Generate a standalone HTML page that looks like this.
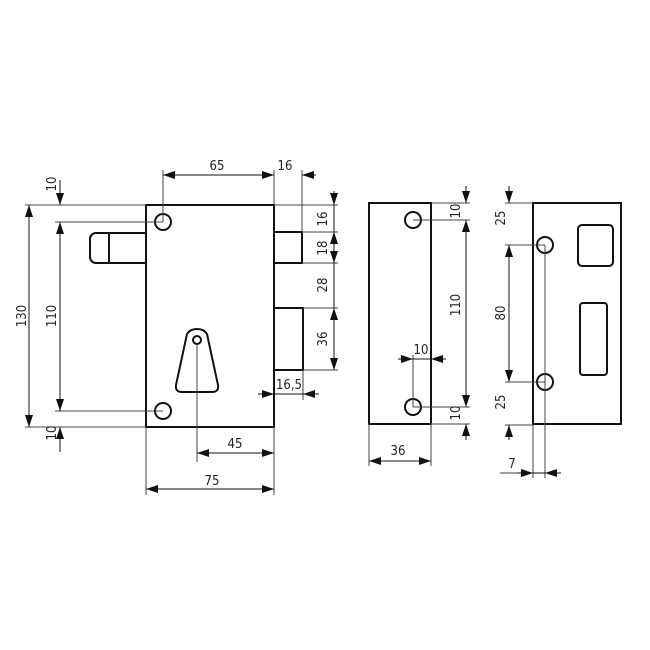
<!DOCTYPE html>
<html><head><style>html,body{margin:0;padding:0;background:#fff}svg{display:block}text{font-family:"DejaVu Sans Condensed","Liberation Sans",sans-serif;font-size:13px;fill:#222}</style></head>
<body>
<svg width="650" height="650" viewBox="0 0 650 650" xmlns="http://www.w3.org/2000/svg">
<defs>
<marker id="a" viewBox="0 0 12 8" refX="12" refY="4" markerWidth="12" markerHeight="8" markerUnits="userSpaceOnUse" orient="auto-start-reverse"><path d="M0,0L12,4L0,8z" fill="#111"/></marker>
</defs>
<g fill="none" stroke="#111" stroke-width="2">
<rect x="146" y="205" width="128" height="222"/>
<circle cx="163" cy="222" r="8"/><circle cx="163" cy="411" r="8"/>
<path d="M146,233H96a6,6 0 0 0 -6,6V257a6,6 0 0 0 6,6H146"/><path d="M109,233V263"/>
<path d="M274,232H302V263H274"/><path d="M274,308H303V370H274"/>
<path d="M187,334Q190,329 197,329Q204,329 207,334L218,385Q219,392 212,392H182Q175,392 176,385Z"/>
<circle cx="197" cy="340" r="4"/>
<rect x="369" y="203" width="62" height="221"/>
<circle cx="413" cy="220" r="8"/><circle cx="413" cy="407" r="8"/>
<rect x="533" y="203" width="88" height="221"/>
<circle cx="545" cy="245" r="8"/><circle cx="545" cy="382" r="8"/>
<rect x="578" y="225" width="35" height="41" rx="4"/>
<rect x="580" y="303" width="27" height="72" rx="3"/>
</g>
<g fill="none" stroke="#444" stroke-width="1">
<path d="M163,170V222M274,170V205M302,170V232M274,205H338M302,232H338M302,263H338M303,308H338M303,370H338M303,370V400M197,345V462M146,427V495M274,427V495M25,205H146M55,222H163M55,411H163M25,427H146M431,203H470M413,220H470M413,407H470M431,424H470M413,355V407M369,424V466M431,424V466M505,203H533M505,245H545M505,382H545M505,425H533M545,245V478M533,424V478M500,473H518"/>
</g>
<g stroke="#111" stroke-width="1" fill="none">
<line x1="163" y1="175" x2="274" y2="175" marker-start="url(#a)" marker-end="url(#a)"/>
<line x1="316" y1="175" x2="302" y2="175" marker-end="url(#a)"/>
<line x1="334" y1="191" x2="334" y2="205" marker-end="url(#a)"/>
<line x1="334" y1="232" x2="334" y2="263" marker-start="url(#a)" marker-end="url(#a)"/>
<line x1="334" y1="308" x2="334" y2="370" marker-start="url(#a)" marker-end="url(#a)"/>
<line x1="334" y1="205" x2="334" y2="370"/>
<line x1="258" y1="394" x2="274" y2="394" marker-end="url(#a)"/>
<line x1="274" y1="394" x2="303" y2="394"/>
<line x1="319" y1="394" x2="303" y2="394" marker-end="url(#a)"/>
<line x1="197" y1="453" x2="274" y2="453" marker-start="url(#a)" marker-end="url(#a)"/>
<line x1="146" y1="489" x2="274" y2="489" marker-start="url(#a)" marker-end="url(#a)"/>
<line x1="29" y1="205" x2="29" y2="427" marker-start="url(#a)" marker-end="url(#a)"/>
<line x1="60" y1="222" x2="60" y2="411" marker-start="url(#a)" marker-end="url(#a)"/>
<line x1="60" y1="180" x2="60" y2="205" marker-end="url(#a)"/>
<line x1="60" y1="452" x2="60" y2="427" marker-end="url(#a)"/>
<line x1="466" y1="186" x2="466" y2="203" marker-end="url(#a)"/>
<line x1="466" y1="220" x2="466" y2="407" marker-start="url(#a)" marker-end="url(#a)"/>
<line x1="466" y1="440" x2="466" y2="424" marker-end="url(#a)"/>
<line x1="398" y1="359" x2="413" y2="359" marker-end="url(#a)"/>
<line x1="413" y1="359" x2="431" y2="359"/>
<line x1="446" y1="359" x2="431" y2="359" marker-end="url(#a)"/>
<line x1="369" y1="461" x2="431" y2="461" marker-start="url(#a)" marker-end="url(#a)"/>
<line x1="509" y1="186" x2="509" y2="203" marker-end="url(#a)"/>
<line x1="509" y1="245" x2="509" y2="382" marker-start="url(#a)" marker-end="url(#a)"/>
<line x1="509" y1="440" x2="509" y2="425" marker-end="url(#a)"/>
<line x1="517" y1="473" x2="533" y2="473" marker-end="url(#a)"/>
<line x1="533" y1="473" x2="545" y2="473"/>
<line x1="561" y1="473" x2="545" y2="473" marker-end="url(#a)"/>
</g>
<g text-anchor="middle">
<text x="217" y="170">65</text><text x="285" y="170">16</text>
<text x="289" y="389">16,5</text><text x="235" y="448">45</text><text x="212" y="485">75</text>
<text x="398" y="455">36</text><text x="421" y="354">10</text><text x="512" y="468">7</text>
<g>
<text transform="translate(26,316) rotate(-90)">130</text>
<text transform="translate(56,316) rotate(-90)">110</text>
<text transform="translate(56,184) rotate(-90)">10</text>
<text transform="translate(56,433) rotate(-90)">10</text>
<text transform="translate(327,219) rotate(-90)">16</text>
<text transform="translate(327,248) rotate(-90)">18</text>
<text transform="translate(327,285) rotate(-90)">28</text>
<text transform="translate(327,339) rotate(-90)">36</text>
<text transform="translate(460,211) rotate(-90)">10</text>
<text transform="translate(460,305) rotate(-90)">110</text>
<text transform="translate(460,413) rotate(-90)">10</text>
<text transform="translate(505,218) rotate(-90)">25</text>
<text transform="translate(505,313) rotate(-90)">80</text>
<text transform="translate(505,402) rotate(-90)">25</text>
</g>
</g>
</svg>
</body></html>
